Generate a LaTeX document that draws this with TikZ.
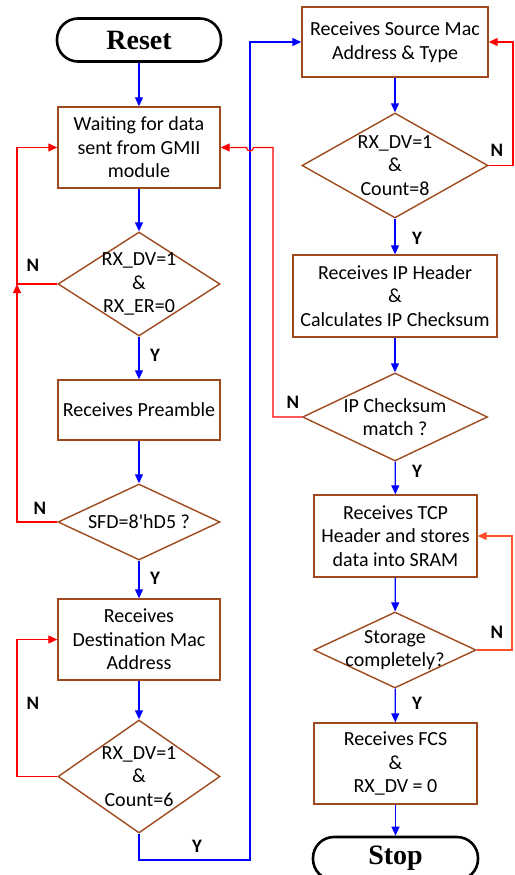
\documentclass[tikz,border=0pt]{standalone}
\usepackage{fontspec}
\usetikzlibrary{shapes.geometric,arrows.meta}
\newfontfamily\boxfont{Carlito}
\newfontfamily\termfont{Liberation Serif}
\definecolor{boxbrown}{RGB}{158,74,30}
\definecolor{flowblue}{RGB}{0,0,255}
\definecolor{flowred}{RGB}{255,0,0}
\definecolor{floworange}{RGB}{255,80,40}
\tikzset{
  stepbox/.style={draw=boxbrown, line width=1.4pt, fill=white, inner sep=0pt,
    align=center, font=\boxfont\fontsize{20}{23.5}\selectfont},
  decision/.style={diamond, draw=boxbrown, line width=1.4pt, fill=white, inner sep=0pt},
  dtext/.style={inner sep=0pt, align=center, font=\boxfont\fontsize{20}{23.5}\selectfont},
  terminal/.style={draw=black, line width=2.6pt, rounded corners=21pt, fill=white,
    inner sep=0pt, font=\termfont\bfseries\fontsize{28}{30}\selectfont},
  yes/.style={draw=flowblue, line width=1.2pt, -{Triangle[length=9pt,width=8pt]}},
  no/.style={draw=flowred, line width=1.2pt, -{Triangle[length=9pt,width=8pt]}},
  tag/.style={inner sep=0pt, font=\boxfont\bfseries\fontsize{19}{20}\selectfont},
}
\begin{document}
\begin{tikzpicture}[x=1pt,y=-1pt]
\useasboundingbox (0,0) rectangle (514,875);
\clip (0,0) rectangle (514,875);

% left column
\node[terminal, minimum width=164pt, minimum height=43pt] (reset) at (139,40) {Reset};
\node[stepbox, minimum width=162pt, minimum height=81pt] (wait) at (139,147.5)
  {Waiting for data\\sent from GMII\\module};
\node[decision, minimum width=162pt, minimum height=104pt] (d1) at (139,284) {};
\node[dtext] at (d1) {RX\_DV=1\\\&\\RX\_ER=0};
\node[stepbox, minimum width=162pt, minimum height=60pt] (pre) at (139,410) {Receives Preamble};
\node[decision, minimum width=162pt, minimum height=76pt] (d2) at (139,522) {};
\node[dtext] at (d2) {SFD=8'hD5 ?};
\node[stepbox, minimum width=162pt, minimum height=81pt] (dst) at (139,639.5)
  {Receives\\Destination Mac\\Address};
\node[decision, minimum width=162pt, minimum height=113pt] (d3) at (139,776.5) {};
\node[dtext] at (d3) {RX\_DV=1\\\&\\Count=6};

% right column
\node[stepbox, minimum width=186pt, minimum height=70pt] (src) at (395,42)
  {Receives Source Mac\\Address \& Type};
\node[decision, minimum width=186pt, minimum height=105pt] (d4) at (395,165.5) {};
\node[dtext] at (d4) {RX\_DV=1\\\&\\Count=8};
\node[stepbox, minimum width=204pt, minimum height=82pt] (iph) at (395,296)
  {Receives IP Header\\\&\\Calculates IP Checksum};
\node[decision, minimum width=185pt, minimum height=88pt] (d5) at (395,417) {};
\node[dtext] at (d5) {IP Checksum\\match ?};
\node[stepbox, minimum width=163pt, minimum height=82pt] (tcp) at (395.5,536)
  {Receives TCP\\Header and stores\\data into SRAM};
\node[decision, minimum width=162pt, minimum height=76pt] (d6) at (395,650) {};
\node[dtext] at (d6) {Storage\\completely?};
\node[stepbox, minimum width=163pt, minimum height=81pt] (fcs) at (395.5,763.5)
  {Receives FCS\\\&\\RX\_DV = 0};
\node[terminal, minimum width=165pt, minimum height=43pt] (stop) at (395.5,858.5) {Stop};

% yes / forward flow
\draw[yes] (reset) -- (wait);
\draw[yes] (wait) -- (d1);
\draw[yes] (d1) -- (pre);
\draw[yes] (pre) -- (d2);
\draw[yes] (d2) -- (dst);
\draw[yes] (dst) -- (d3);
\draw[yes] (d3.south) -- (139,860) -- (250,860) -- (250,42) -- (src.west);
\draw[yes] (src) -- (d4);
\draw[yes] (d4) -- (iph);
\draw[yes] (iph) -- (d5);
\draw[yes] (d5) -- (tcp);
\draw[yes] (tcp) -- (d6);
\draw[yes] (d6) -- (fcs);
\draw[yes] (fcs) -- (stop);

% no / loop-back flow
\draw[no] (d1.west) -- (17,284) -- (17,147.5) -- (wait.west);
\draw[no] (d2.west) -- (17,522) -- (17,284);
\draw[no] (d3.west) -- (17,776.5) -- (17,639.5) -- (dst.west);
\draw[no] (d4.east) -- (513,165.5) -- (513,42) -- (src.east);
\draw[no] (d5.west) -- (273,417) -- (273,147.5) -- (253.5,147.5)
  arc[start angle=0, end angle=180, radius=3.5] -- (wait.east);
\draw[no, draw=floworange] (d6.east) -- (512,650) -- (512,536) -- (tcp.east);

% branch labels
\node[tag] (n1) at (33,265) {N};
\node[tag] (y1) at (155,355) {Y};
\node[tag] (n2) at (40,508) {N};
\node[tag] (y2) at (155,578) {Y};
\node[tag] (n3) at (33,703) {N};
\node[tag] (y3) at (197,846) {Y};
\node[tag] (n4) at (497,150) {N};
\node[tag] (y4) at (417,238) {Y};
\node[tag] (n5) at (293,402) {N};
\node[tag] (y5) at (417,471) {Y};
\node[tag] (n6) at (497,632) {N};
\node[tag] (y6) at (417,703) {Y};
\end{tikzpicture}
\end{document}
